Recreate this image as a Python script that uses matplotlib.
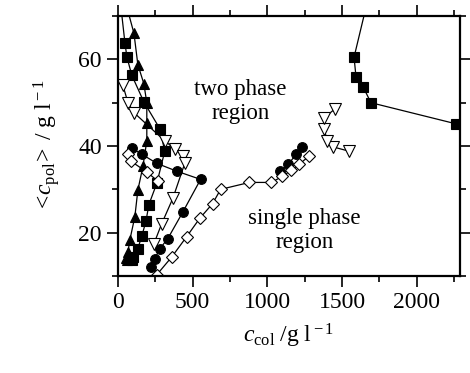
import matplotlib

matplotlib.use("Agg")
import matplotlib.pyplot as plt
from matplotlib.ticker import MultipleLocator

plt.rcParams["font.family"] = ["Liberation Serif", "DejaVu Serif"]
plt.rcParams["mathtext.fontset"] = "custom"
plt.rcParams["mathtext.rm"] = "Liberation Serif"
plt.rcParams["mathtext.it"] = "Liberation Serif:italic"

# filled triangles (line enters from top of the frame)
tri_x = [60, 107, 133, 173, 193, 193, 193, 167, 133, 113, 80, 67, 53, 60]
tri_y = [72, 66.0, 58.8, 54.4, 50.0, 45.3, 41.2, 35.3, 29.8, 23.7, 18.4, 15.6, 14.2, 13.8]

# filled squares, low-colloid branch
sq_x = [20, 47, 60, 93, 173, 280, 313, 260, 207, 187, 160, 133, 100, 93]
sq_y = [72, 63.7, 60.5, 56.3, 50.2, 44.0, 38.8, 31.4, 26.5, 22.6, 19.3, 16.3, 14.4, 13.7]

# filled squares, high-colloid branch
sq2_x = [1660, 1580, 1593, 1640, 1693, 2265]
sq2_y = [72, 60.5, 56.0, 53.7, 50.0, 45.1]

# open down-triangles
dtri_x = [33, 67, 107, 313, 380, 433, 447, 367, 293, 240]
dtri_y = [54.0, 50.0, 47.7, 41.2, 39.3, 37.7, 36.0, 27.9, 22.1, 17.4]
dtri2_x = [1547, 1440, 1400, 1380, 1380, 1453]
dtri2_y = [38.8, 39.8, 41.2, 44.0, 46.5, 48.6]

# filled circles
circ_x = [93, 160, 260, 393, 553, 433, 333, 280, 247, 220]
circ_y = [39.5, 38.1, 36.0, 34.2, 32.3, 24.7, 18.6, 16.3, 14.0, 12.1]
circ2_x = [1087, 1140, 1193, 1233]
circ2_y = [34.2, 35.8, 38.1, 39.8]

# open diamonds
dia_x = [67, 87, 193, 267]
dia_y = [38.1, 36.5, 34.0, 31.9]
dia2_x = [260, 360, 460, 547, 633, 687, 880, 1027, 1100, 1160, 1213, 1280]
dia2_y = [10.3, 14.4, 19.1, 23.3, 26.7, 30.0, 31.6, 31.6, 33.0, 34.4, 35.8, 37.7]

fig = plt.figure(figsize=(4.7, 3.73), dpi=100)
ax = fig.add_axes([0.251, 0.260, 0.728, 0.697])

line_kw = dict(color="black", lw=0.9, mec="black", mew=0.8)
ax.plot(tri_x, tri_y, marker="^", ms=7.5, mfc="black", **line_kw)
for xs, ys in [(sq_x, sq_y), (sq2_x, sq2_y)]:
    ax.plot(xs, ys, marker="s", ms=6.5, mfc="black", **line_kw)
for xs, ys in [(dtri_x, dtri_y), (dtri2_x, dtri2_y)]:
    ax.plot(xs, ys, marker="v", ms=8.5, mfc="white", **line_kw)
for xs, ys in [(circ_x, circ_y), (circ2_x, circ2_y)]:
    ax.plot(xs, ys, marker="o", ms=7, mfc="black", **line_kw)
for xs, ys in [(dia_x, dia_y), (dia2_x, dia2_y)]:
    ax.plot(xs, ys, marker="D", ms=6.5, mfc="white", **line_kw)

ax.text(820, 50.3, "two phase\nregion", ha="center", va="center", fontsize=16.5)
ax.text(1250, 20.5, "single phase\nregion", ha="center", va="center", fontsize=16.5)

ax.set_xlim(0, 2290)
ax.set_ylim(10, 70)
ax.xaxis.set_major_locator(MultipleLocator(500))
ax.xaxis.set_minor_locator(MultipleLocator(250))
ax.yaxis.set_major_locator(MultipleLocator(20))
ax.yaxis.set_minor_locator(MultipleLocator(10))
ax.tick_params(which="both", direction="out", top=True, right=True,
               labelsize=17, width=1.2)
ax.tick_params(which="major", length=8)
ax.tick_params(which="minor", length=4.5)
for s in ax.spines.values():
    s.set_linewidth(1.6)

ax.set_xlabel(r"$c_{\rm col}\ /{\rm g\ l}^{\rm -1}$", fontsize=17, labelpad=6)
ax.set_ylabel(r"$<\!c_{\rm pol}\!>\ /\ {\rm g\ l}^{\rm -1}$", fontsize=17, labelpad=12)

fig.savefig("out.png", dpi=100)
